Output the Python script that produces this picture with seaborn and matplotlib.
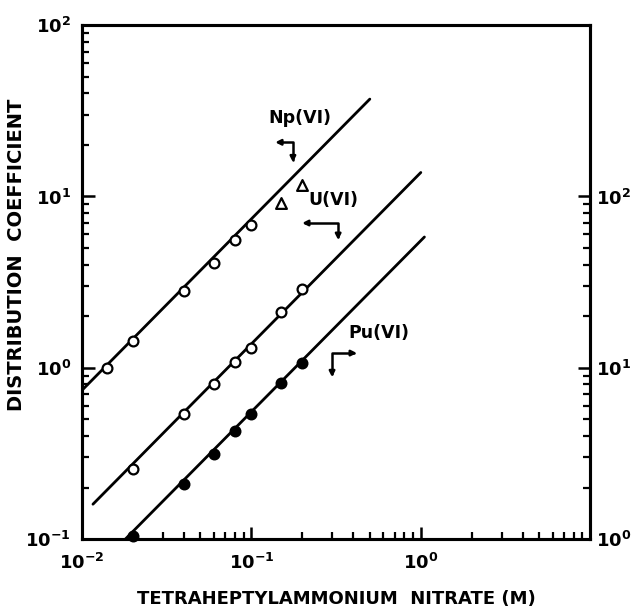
import numpy as np
import seaborn as sns
import matplotlib.pyplot as plt
from matplotlib.ticker import FixedLocator, NullFormatter

# nitrate concentration (M)
np_conc = [0.014, 0.02, 0.04, 0.06, 0.08, 0.1]
np_tri_conc = [0.15, 0.2]
u_conc = [0.02, 0.04, 0.06, 0.08, 0.1, 0.15, 0.2]
pu_conc = [0.02, 0.04, 0.06, 0.08, 0.1, 0.15, 0.2]

# distribution coefficients (Np, U on left axis; Pu on right axis)
np_d = [1.0, 1.44, 2.82, 4.1, 5.6, 6.8]
np_tri_d = [9.1, 11.6]
u_d = [0.256, 0.54, 0.80, 1.08, 1.31, 2.12, 2.9]
pu_d = [1.04, 2.1, 3.14, 4.28, 5.4, 8.17, 10.7]

# fitted lines (end points)
np_fit_x = [0.01, 0.5]
np_fit_y = [0.74, 37.0]
u_fit_x = [0.0116, 1.0]
u_fit_y = [0.16, 13.8]
pu_fit_x = [0.018, 1.05]
pu_fit_y = [1.0, 58.0]

sns.set_style("ticks")
plt.rcParams['font.family'] = ['DejaVu Sans']
plt.rcParams['font.weight'] = 'bold'
plt.rcParams['mathtext.default'] = 'bf'
for k in ("text.color", "axes.labelcolor", "xtick.color", "ytick.color", "axes.edgecolor"):
    plt.rcParams[k] = "black"

fig = plt.figure(figsize=(6.36, 6.12), dpi=100)
ax = fig.add_axes([0.129, 0.119, 0.799, 0.840])
ax.set_xscale("log")
ax.set_yscale("log")
ax.set_xlim(1e-2, 1e1)
ax.set_ylim(1e-1, 1e2)

ax2 = ax.twinx()
ax2.set_yscale("log")
ax2.set_ylim(1e0, 1e3)

sns.lineplot(x=np_fit_x, y=np_fit_y, ax=ax, color="black", lw=2)
sns.lineplot(x=u_fit_x, y=u_fit_y, ax=ax, color="black", lw=2)
sns.lineplot(x=pu_fit_x, y=pu_fit_y, ax=ax2, color="black", lw=2)

sns.scatterplot(x=np_conc, y=np_d, ax=ax, marker="o", s=50, facecolor="white",
                edgecolor="black", linewidth=1.6, zorder=3)
sns.scatterplot(x=np_tri_conc, y=np_tri_d, ax=ax, marker="^", s=60, facecolor="white",
                edgecolor="black", linewidth=1.6, zorder=3)
sns.scatterplot(x=u_conc, y=u_d, ax=ax, marker="o", s=50, facecolor="white",
                edgecolor="black", linewidth=1.6, zorder=3)
sns.scatterplot(x=pu_conc, y=pu_d, ax=ax2, marker="o", s=55, color="black",
                edgecolor="black", linewidth=1.2, zorder=3, clip_on=False)

for a in (ax, ax2):
    for s in a.spines.values():
        s.set_linewidth(2.2)
    a.tick_params(which="major", direction="in", length=9, width=1.8, labelsize=13)
    a.tick_params(which="minor", direction="in", length=5, width=1.6)

# x axis
ax.xaxis.set_major_locator(FixedLocator([1e-2, 1e-1, 1e0, 1e1]))
ax.set_xticklabels([r"$10^{-2}$", r"$10^{-1}$", r"$10^{0}$", ""])
ax.xaxis.set_minor_locator(FixedLocator([m * 10.0 ** e for e in (-2, -1, 0) for m in range(2, 10)]))
ax.xaxis.set_minor_formatter(NullFormatter())
ax.tick_params(axis="x", which="both", pad=10, top=False)

# left y axis
ax.yaxis.set_major_locator(FixedLocator([1e-1, 1e0, 1e1, 1e2]))
ax.set_yticklabels([r"$10^{-1}$", r"$10^{0}$", r"$10^{1}$", r"$10^{2}$"])
ax.yaxis.set_minor_locator(FixedLocator([m * 10.0 ** e for e in (-1, 0, 1) for m in range(2, 10)]))
ax.yaxis.set_minor_formatter(NullFormatter())
ax.tick_params(axis="y", which="both", pad=8, right=False)

# right y axis (only up to 10^2)
ax2.yaxis.set_major_locator(FixedLocator([1e0, 1e1, 1e2]))
ax2.set_yticklabels([r"$10^{0}$", r"$10^{1}$", r"$10^{2}$"])
ax2.yaxis.set_minor_locator(FixedLocator([m * 10.0 ** e for e in (0, 1) for m in range(2, 10)]))
ax2.yaxis.set_minor_formatter(NullFormatter())
ax2.tick_params(axis="y", which="both", pad=4)

ax.set_xlabel("TETRAHEPTYLAMMONIUM  NITRATE (M)", fontsize=13, fontweight="bold", labelpad=12)
ax.set_ylabel("DISTRIBUTION  COEFFICIENT", fontsize=14, fontweight="bold", labelpad=2)
ax.yaxis.set_label_coords(-0.11, 0.553)

# series labels with axis arrows
ax.text(0.429, 0.819, "Np(VI)", transform=ax.transAxes, ha="center", va="center",
        fontsize=12.5, fontweight="bold")
ax.text(0.494, 0.660, "U(VI)", transform=ax.transAxes, ha="center", va="center",
        fontsize=12.5, fontweight="bold")
ax.text(0.585, 0.401, "Pu(VI)", transform=ax.transAxes, ha="center", va="center",
        fontsize=12.5, fontweight="bold")

arrow = dict(arrowstyle="<|-|>", lw=1.8, color="black", shrinkA=0, shrinkB=0,
             mutation_scale=8)
ax.annotate("", xy=(0.415, 0.733), xytext=(0.380, 0.772), xycoords="axes fraction",
            arrowprops=dict(arrow, connectionstyle="angle,angleA=0,angleB=90,rad=0"))
ax.annotate("", xy=(0.504, 0.582), xytext=(0.433, 0.615), xycoords="axes fraction",
            arrowprops=dict(arrow, connectionstyle="angle,angleA=0,angleB=90,rad=0"))
ax.annotate("", xy=(0.541, 0.362), xytext=(0.492, 0.315), xycoords="axes fraction",
            arrowprops=dict(arrow, connectionstyle="angle,angleA=90,angleB=0,rad=0"))

fig.savefig("out.png", dpi=100)
